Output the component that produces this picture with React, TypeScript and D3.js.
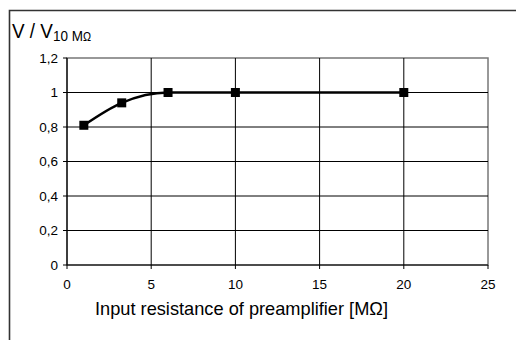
import React from "react";
import * as d3 from "d3";

// Relative signal vs. preamplifier input resistance
const resistance = [1, 3.25, 6, 10, 20];
const ratio = [0.81, 0.94, 1.0, 1.0, 1.0];
const xTicks = [0, 5, 10, 15, 20, 25];
const yTicks = [0, 0.2, 0.4, 0.6, 0.8, 1.0, 1.2];
const xTitle = "Input resistance of preamplifier [MΩ]";

const W = 516;
const H = 340;
const plot = { left: 67, right: 488, top: 58, bottom: 265 };

export default function App() {
  const x = d3.scaleLinear().domain([0, 25]).range([plot.left, plot.right]);
  const y = d3.scaleLinear().domain([0, 1.2]).range([plot.bottom, plot.top]);
  const pts = resistance.map((r, i) => [r, ratio[i]] as [number, number]);
  const line = d3
    .line<[number, number]>()
    .x((d) => x(d[0]))
    .y((d) => y(d[1]))
    .curve(d3.curveMonotoneX);
  const fmt = (v: number) => (Math.round(v * 10) / 10).toString().replace(".", ",");
  const font = "Arial, 'Liberation Sans', sans-serif";

  return (
    <svg
      width={W}
      height={H}
      style={{ position: "absolute", left: 0, top: 0, background: "#fff" }}
      fontFamily={font}
    >
      {/* outer chart frame */}
      <path d={`M9.5,${H + 5} V10.5 H${W + 5}`} fill="none" stroke="#333" strokeWidth={1.6} />

      {/* plot area border */}
      <rect
        x={plot.left}
        y={plot.top}
        width={plot.right - plot.left}
        height={plot.bottom - plot.top}
        fill="none"
        stroke="#777"
        strokeWidth={1.5}
      />

      {/* grid */}
      {yTicks.slice(1, -1).map((t) => (
        <line key={"gy" + t} x1={plot.left} x2={plot.right} y1={y(t)} y2={y(t)} stroke="#000" strokeWidth={1} />
      ))}
      {xTicks.slice(1, -1).map((t) => (
        <line key={"gx" + t} x1={x(t)} x2={x(t)} y1={plot.top} y2={plot.bottom} stroke="#000" strokeWidth={1} />
      ))}

      {/* axes */}
      <line x1={plot.left} x2={plot.left} y1={plot.top} y2={plot.bottom} stroke="#000" strokeWidth={1.2} />
      <line x1={plot.left} x2={plot.right} y1={plot.bottom} y2={plot.bottom} stroke="#000" strokeWidth={1.2} />
      {yTicks.map((t) => (
        <g key={"ty" + t}>
          <line x1={plot.left - 4} x2={plot.left} y1={y(t)} y2={y(t)} stroke="#000" />
          <text x={58} y={y(t) + 4.5} textAnchor="end" fontSize={13.5}>
            {fmt(t)}
          </text>
        </g>
      ))}
      {xTicks.map((t) => (
        <g key={"tx" + t}>
          <line x1={x(t)} x2={x(t)} y1={plot.bottom} y2={plot.bottom + 4} stroke="#000" />
          <text x={x(t)} y={plot.bottom + 24} textAnchor="middle" fontSize={13.5}>
            {t}
          </text>
        </g>
      ))}

      {/* series */}
      <path d={line(pts) ?? ""} fill="none" stroke="#000" strokeWidth={2.5} />
      {pts.map((p, i) => (
        <rect key={"m" + i} x={x(p[0]) - 4.5} y={y(p[1]) - 4.5} width={9} height={9} fill="#000" />
      ))}

      {/* axis titles */}
      <g transform="translate(12,38) scale(0.9,1)">
        <text x={0} y={0} fontSize={21}>
          V / V
          <tspan fontSize={15} dy={3}>
            10 M
          </tspan>
          <tspan fontSize={12}>Ω</tspan>
        </text>
      </g>
      <text
        x={95}
        y={315}
        fontSize={19}
        textLength={293}
        lengthAdjust="spacingAndGlyphs"
      >
        {xTitle}
      </text>
    </svg>
  );
}
